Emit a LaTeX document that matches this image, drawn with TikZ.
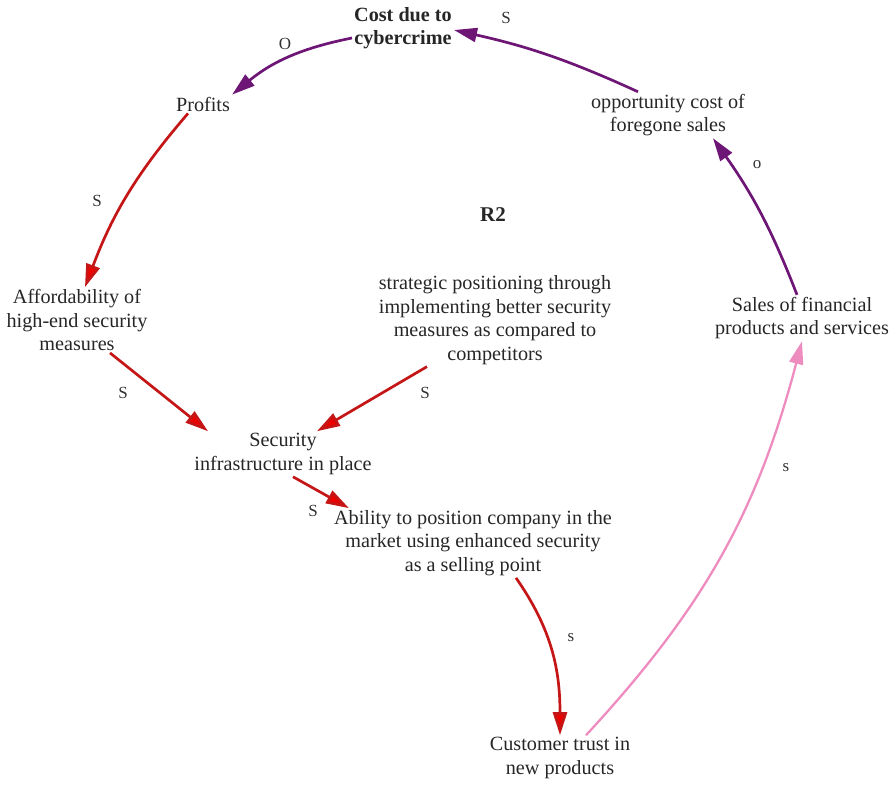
\documentclass[tikz,border=0pt]{standalone}
\usepackage{fontspec}
\setmainfont{Liberation Serif}
\usetikzlibrary{arrows.meta}
\definecolor{loopPurple}{RGB}{110,22,118}
\definecolor{loopRed}{RGB}{196,22,22}
\definecolor{tipRed}{RGB}{236,0,0}
\definecolor{loopPink}{RGB}{238,140,192}
\tikzset{
  var/.style={align=center, inner sep=2pt, font=\fontsize{20.2}{23.5}\selectfont, text=black!85},
  sign/.style={inner sep=0pt, font=\fontsize{17}{20}\selectfont, text=black!80},
  link/.style={line width=2.7pt},
  plink/.style={link, draw=loopPurple, -{Triangle[length=23pt,width=14pt,fill=loopPurple]}},
  rlink/.style={link, draw=loopRed, -{Triangle[length=23pt,width=14pt,fill=tipRed]}},
  klink/.style={link, line width=2.3pt, draw=loopPink, -{Triangle[length=23pt,width=14pt,fill=loopPink]}},
}
\begin{document}
\begin{tikzpicture}[x=1pt,y=-1pt]
\useasboundingbox (0,0) rectangle (889,785);

% variables
\node[var, font=\fontsize{20.2}{23.5}\selectfont\bfseries] (cost) at (403,28) {Cost due to\\cybercrime};
\node[var] (profits) at (203,104) {Profits};
\node[var] (opp) at (668,115) {opportunity cost of\\foregone sales};
\node[var, font=\fontsize{21}{24}\selectfont\bfseries] (loop) at (493,215) {R2};
\node[var] (afford) at (77,320) {Affordability of\\high-end security\\measures};
\node[var] (strat) at (495,320) {strategic positioning through\\implementing better security\\measures as compared to\\competitors};
\node[var] (sales) at (802,318) {Sales of financial\\products and services};
\node[var] (sec) at (283,454) {Security\\infrastructure in place};
\node[var] (abil) at (473,543) {Ability to position company in the\\market using enhanced security\\as a selling point};
\node[var] (cust) at (560,758) {Customer trust in\\new products};

% causal links
\draw[plink] ([yshift=-10pt]cost.west) to[bend right=14] (profits.north east);
\draw[plink] ([xshift=-30pt]opp.north) to[bend right=6] ([yshift=-2pt]cost.east);
\draw[rlink] ([xshift=-15pt]profits.south) to[bend right=10] ([xshift=8pt]afford.north);
\draw[rlink] ([xshift=33pt]afford.south) -- ([xshift=-75pt]sec.north);
\draw[rlink] ([xshift=-68pt]strat.south) -- ([xshift=34pt]sec.north);
\draw[rlink] ([xshift=10pt]sec.south) -- ([xshift=17pt]abil.north west);
\draw[rlink] ([xshift=43pt]abil.south) to[out=-55,in=90] (cust.north);
\draw[klink] ([xshift=26pt]cust.north) to[bend right=14] (sales.south);
\draw[plink] ([xshift=-5pt]sales.north) to[bend right=7] ([xshift=45pt]opp.south);

% polarity signs
\node[sign] (s1) at (285,44) {O};
\node[sign] (s2) at (506,18) {S};
\node[sign] (s3) at (97,201) {S};
\node[sign] (s4) at (123,393) {S};
\node[sign] (s5) at (425,393) {S};
\node[sign] (s6) at (313,511) {S};
\node[sign] (s7) at (571,638) {s};
\node[sign] (s8) at (786,468) {s};
\node[sign] (s9) at (757,165) {o};
\end{tikzpicture}
\end{document}
